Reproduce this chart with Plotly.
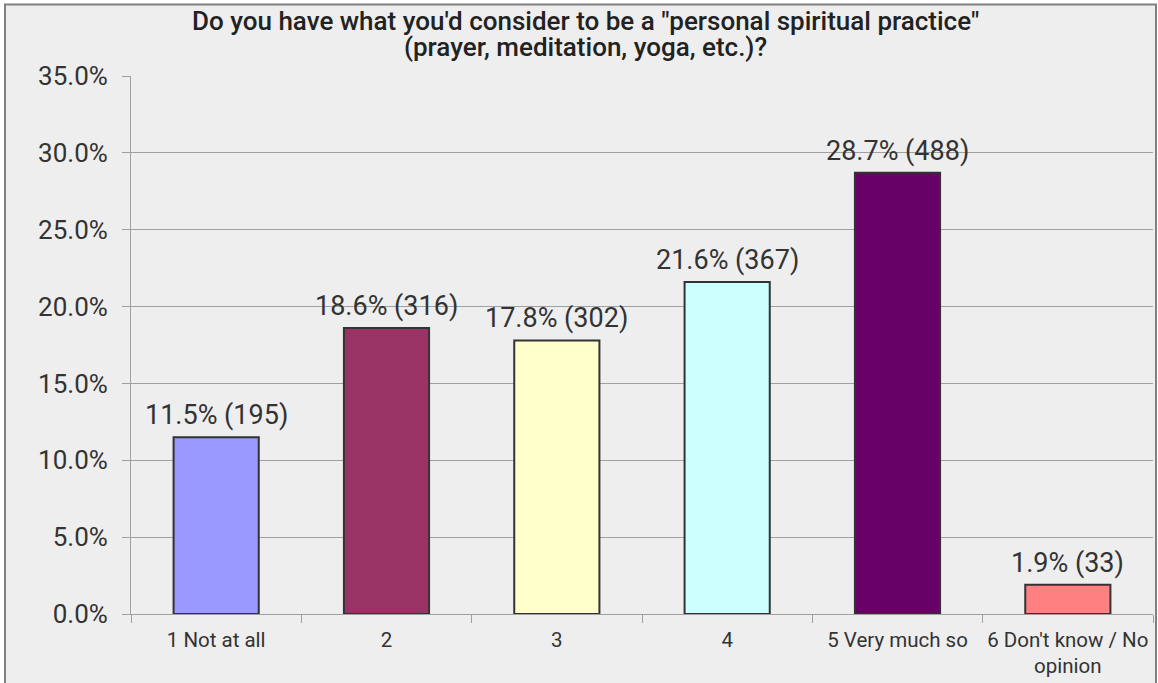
import plotly.graph_objects as go

categories = ["1 Not at all", "2", "3", "4", "5 Very much so", "6 Don't know / No<br>opinion"]
percents = [11.5, 18.6, 17.8, 21.6, 28.7, 1.9]
counts = [195, 316, 302, 367, 488, 33]
colors = ["#9999FF", "#993366", "#FFFFCC", "#CCFFFF", "#660066", "#FF8080"]
title_lines = ["Do you have what you'd consider to be a \"personal spiritual practice\"",
               "(prayer, meditation, yoga, etc.)?"]

W, H = 1158, 683
L, R, T, B = 131, 5, 76, 65
pw, ph = W - L - R, H - T - B

labels = [f"{p:.1f}% ({c})" for p, c in zip(percents, counts)]
values = [p / 100 for p in percents]

fig = go.Figure(go.Bar(
    x=categories, y=values,
    marker=dict(color=colors, line=dict(color="#333333", width=2)),
    hoverinfo="skip",
))

def px_x(px):
    return (px - L) / pw

def px_y(py):
    return (H - B - py) / ph

fig.add_shape(type="rect", xref="paper", yref="paper",
              x0=px_x(5), x1=px_x(1156), y0=px_y(720), y1=px_y(4),
              fillcolor="#EEEEEE", line=dict(color="#808080", width=2), layer="below")

for i, (v, lab) in enumerate(zip(values, labels)):
    fig.add_annotation(x=i, y=v, text=lab, showarrow=False, yanchor="bottom",
                       yshift=4, font=dict(size=27, color="#333333", family="Roboto"))

for line, py in zip(title_lines, [21, 47]):
    fig.add_annotation(xref="paper", yref="paper", x=px_x(585), y=px_y(py),
                       text=line, showarrow=False, xanchor="center", yanchor="middle",
                       font=dict(size=26, color="#222222", family="Roboto", weight=500))

fig.update_layout(
    width=W, height=H,
    margin=dict(l=L, r=R, t=T, b=B, pad=0),
    paper_bgcolor="white", plot_bgcolor="rgba(0,0,0,0)",
    bargap=0.5, showlegend=False,
    font=dict(family="Roboto", color="#333333"),
)
fig.update_yaxes(range=[0, 0.35], dtick=0.05, tickformat=".1%",
                 showgrid=True, gridcolor="#A0A0A0", gridwidth=1,
                 showline=True, linecolor="#A0A0A0", linewidth=1,
                 ticks="outside", ticklen=8, tickcolor="#A0A0A0",
                 ticklabelstandoff=9,
                 tickfont=dict(size=26, color="#333333"), zeroline=False)
fig.update_xaxes(showline=True, linecolor="#A0A0A0", linewidth=1,
                 ticks="outside", ticklen=8, tickcolor="#A0A0A0", tickson="boundaries",
                 ticklabelstandoff=7,
                 tickfont=dict(size=20.5, color="#333333"), showgrid=False)

fig.write_html("out.html", config={"displayModeBar": False},
               post_script="document.body.style.margin='0';")
